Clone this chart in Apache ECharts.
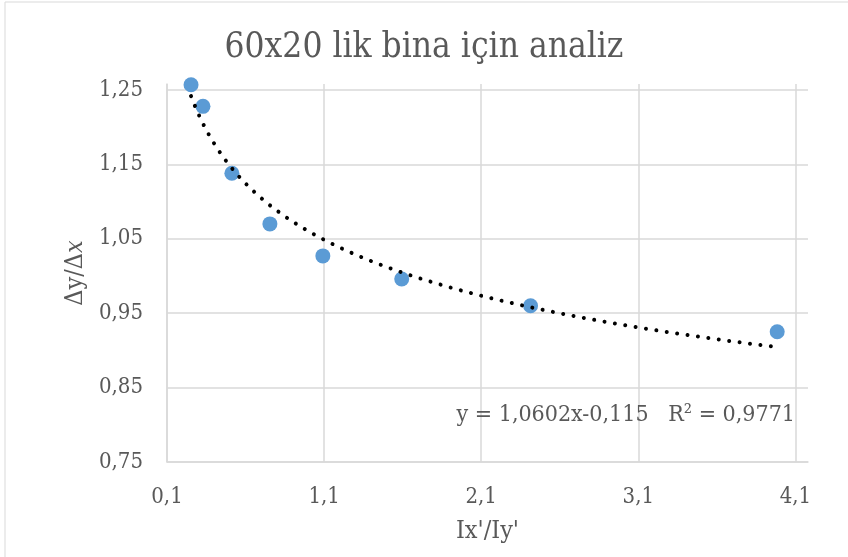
<!DOCTYPE html>
<html><head><meta charset="utf-8">
<script src="https://cdn.jsdelivr.net/npm/echarts@6/dist/echarts.min.js"></script>
<style>html,body{margin:0;padding:0;background:#fff}#c{width:848px;height:557px}</style>
</head><body><div id="c"></div>
<script>
// Data
const xValues = [0.253, 0.329, 0.513, 0.755, 1.092, 1.594, 2.414, 3.984];
const yValues = [1.257, 1.228, 1.138, 1.070, 1.027, 0.996, 0.960, 0.925];
const xTickLabels = ['0,1', '1,1', '2,1', '3,1', '4,1'];
const yTickLabels = ['0,75', '0,85', '0,95', '1,05', '1,15', '1,25'];
// Power trendline as printed on the chart: y = 1.0602 x^-0.115
const trendA = 1.0602;
const trendB = -0.115;
const titleText = '60x20 lik bina için analiz';
const equationText = 'y = 1,0602x-0,115   R² = 0,9771';

const points = xValues.map((x, i) => [x, yValues[i]]);
const trend = [];
const x0 = xValues[0], x1 = xValues[xValues.length - 1];
for (let k = 0; k <= 200; k++) {
  const x = x0 + (x1 - x0) * k / 200;
  trend.push([x, trendA * Math.pow(x, trendB)]);
}
const fmt = v => v.toFixed(2).replace('.', ',');
const fmtX = v => v.toFixed(1).replace('.', ',');
const font = '"DejaVu Serif Condensed", "DejaVu Serif", serif';

const chart = echarts.init(document.getElementById('c'));
chart.setOption({
  backgroundColor: '#fff',
  animation: false,
  title: {
    text: titleText, left: 'center', top: 25,
    textStyle: { fontFamily: font, fontSize: 35, fontWeight: 'normal', color: '#595959' }
  },
  graphic: [
    { type: 'rect', shape: { x: 5, y: 2, width: 900, height: 600 }, style: { fill: 'none', stroke: '#d9d9d9', lineWidth: 1 }, silent: true },
    { type: 'text', right: 53, top: 404, style: { text: equationText, font: '23px ' + font, fill: '#595959' }, z: 10 }
  ],
  grid: { left: 167, right: 40, top: 84, bottom: 95 },
  xAxis: {
    type: 'value', min: 0.1, max: 4.18, interval: 1,
    name: "Ix'/Iy'", nameLocation: 'middle', nameGap: 57,
    nameTextStyle: { fontFamily: font, fontSize: 25, color: '#595959' },
    axisLine: { show: true, lineStyle: { color: '#d9d9d9', width: 1.5 } },
    axisTick: { show: false },
    axisLabel: { showMaxLabel: false, margin: 24, fontFamily: font, fontSize: 22, color: '#595959', formatter: v => fmtX(v) },
    splitLine: { show: true, showMaxLine: false, lineStyle: { color: '#d9d9d9', width: 1.5 } }
  },
  yAxis: {
    type: 'value', min: 0.75, max: 1.258, interval: 0.1,
    name: '{a|Δy/Δ}{b|x}', nameLocation: 'middle', nameGap: 69, nameRotate: 90,
    nameTextStyle: { fontFamily: font, fontSize: 25, color: '#595959',
      rich: { a: { fontFamily: font, fontSize: 25, color: '#595959' }, b: { fontFamily: font, fontSize: 25, fontStyle: 'italic', color: '#595959' } } },
    axisLine: { show: true, lineStyle: { color: '#d9d9d9', width: 1.5 } },
    axisTick: { show: false },
    axisLabel: { showMaxLabel: false, margin: 24, fontFamily: font, fontSize: 22, color: '#595959', formatter: v => fmt(v) },
    splitLine: { show: true, showMaxLine: false, lineStyle: { color: '#d9d9d9', width: 1.5 } }
  },
  series: [
    {
      type: 'scatter', data: points, symbolSize: 15, z: 3,
      itemStyle: { color: '#5B9BD5', opacity: 1 }
    },
    {
      type: 'line', data: trend, showSymbol: false, smooth: false, z: 4,
      lineStyle: { color: '#000', width: 4, type: [0.01, 10.5], cap: 'round' }
    }
  ]
});
</script></body></html>
